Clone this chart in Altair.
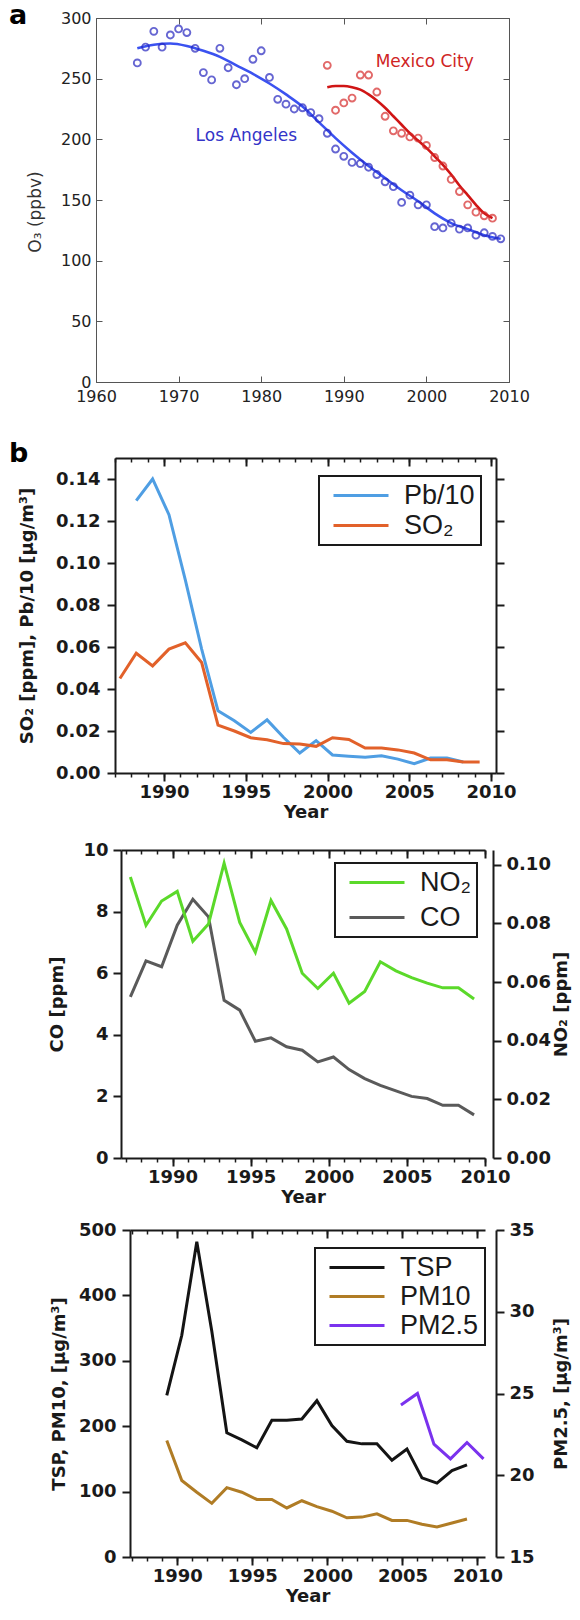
import altair as alt
import pandas as pd

# ---------------- panel a : O3 (ppbv) ----------------
la_years = list(range(1965, 2010))
la_o3 = [263, 276, 289, 276, 286, 291, 288, 275, 255, 249, 275, 259, 245, 250, 266,
         273, 251, 233, 229, 225, 226, 222, 217, 205, 192, 186, 181, 180, 177, 171,
         165, 161, 148, 154, 146, 146, 128, 127, 131, 126, 127, 121, 123, 120, 118]
mx_years = list(range(1988, 2009))
mx_o3 = [261, 224, 230, 234, 253, 253, 239, 219, 207, 205, 202, 201, 195, 185, 178,
         167, 157, 146, 140, 137, 135]
la_fit_years = [1965, 1967, 1969, 1971, 1973, 1975, 1977, 1979, 1981, 1983, 1985, 1987,
                1989, 1991, 1993, 1995, 1997, 1999, 2001, 2003, 2005, 2007, 2009]
la_fit = [275, 278, 279, 277, 273, 268, 261, 254, 246, 237, 227, 214,
          201, 189, 178, 168, 158, 149, 139, 131, 126, 121, 118]
mx_fit_years = list(range(1988, 2009))
mx_fit = [243, 244, 244, 243, 241, 237, 232, 226, 219, 212, 205, 199, 193, 186, 179,
          171, 162, 154, 146, 139, 135]
city_labels = ["Los Angeles", "Mexico City"]
city_label_year = [1978.2, 1999.8]
city_label_o3 = [202.5, 263.6]
city_label_color = ["#3434c8", "#cf2424"]

# ---------------- panel b1 : SO2, Pb/10 ----------------
so2_years = [1987.3, 1988.3, 1989.3, 1990.3, 1991.3, 1992.3, 1993.3, 1994.3, 1995.3,
             1996.3, 1997.3, 1998.3, 1999.3, 2000.3, 2001.3, 2002.3, 2003.3, 2004.3,
             2005.3, 2006.3, 2007.3, 2008.3, 2009.3]
so2_vals = [0.045, 0.057, 0.051, 0.059, 0.062, 0.0526, 0.0228, 0.020, 0.0168, 0.0158,
            0.014, 0.0138, 0.0127, 0.0168, 0.016, 0.0119, 0.0119, 0.011, 0.0095, 0.0063,
            0.0063, 0.0052, 0.0052]
pb_years = [1988.3, 1989.3, 1990.3, 1991.3, 1992.3, 1993.3, 1994.3, 1995.3, 1996.3,
            1997.3, 1998.3, 1999.3, 2000.3, 2001.3, 2002.3, 2003.3, 2004.3, 2005.3,
            2006.3, 2007.3, 2008.3]
pb_vals = [0.1297, 0.140, 0.123, 0.092, 0.059, 0.0296, 0.0249, 0.0193, 0.0253, 0.017,
           0.0095, 0.0154, 0.0086, 0.008, 0.0075, 0.0082, 0.0066, 0.0044, 0.0071, 0.0071,
           0.0052]

# ---------------- panel b2 : CO, NO2 ----------------
b2_years = so2_years
co_vals = [5.23, 6.40, 6.21, 7.56, 8.40, 7.83, 5.12, 4.80, 3.79, 3.90, 3.61, 3.50, 3.12,
           3.28, 2.87, 2.58, 2.36, 2.18, 2.00, 1.93, 1.71, 1.71, 1.40]
no2_vals = [0.0958, 0.0793, 0.0876, 0.0909, 0.0739, 0.0798, 0.1005, 0.0803, 0.0701,
            0.0878, 0.0781, 0.063, 0.0578, 0.063, 0.0528, 0.0568, 0.0669, 0.0638,
            0.0615, 0.0596, 0.058, 0.058, 0.0542]

# ---------------- panel b3 : TSP, PM10, PM2.5 ----------------
tsp_years = [1989.3, 1990.3, 1991.3, 1992.3, 1993.3, 1994.3, 1995.3, 1996.3, 1997.3,
             1998.3, 1999.3, 2000.3, 2001.3, 2002.3, 2003.3, 2004.3, 2005.3, 2006.3,
             2007.3, 2008.3, 2009.3]
tsp_vals = [247, 339, 482, 345, 190, 179, 167, 209, 209, 211, 239, 201, 177, 173, 173,
            148, 165, 121, 113, 132, 141]
pm10_vals = [178, 117, 99, 82, 106, 99, 88, 88, 75, 86, 77, 70, 60, 61, 66, 56, 56, 50,
             46, 52, 58]
pm25_years = [2004.9, 2006.0, 2007.1, 2008.2, 2009.3, 2010.4]
pm25_vals = [24.3, 25.0, 21.9, 21.0, 22.0, 21.0]

# tick values
a_xvals = [1960, 1970, 1980, 1990, 2000, 2010]
a_yvals = [0, 50, 100, 150, 200, 250, 300]
b_major = [1990, 1995, 2000, 2005, 2010]
b_minor = list(range(1987, 2011))
b1_yvals = [0, 0.02, 0.04, 0.06, 0.08, 0.10, 0.12, 0.14]
b2_left_vals = [0, 2, 4, 6, 8, 10]
b2_right_vals = [0, 0.02, 0.04, 0.06, 0.08, 0.10]
b3_left_vals = [0, 100, 200, 300, 400, 500]
b3_right_vals = [15, 20, 25, 30, 35]

# ---------------- layout (canvas pixels) ----------------
CW, CH = 564, 1604
FONT = "DejaVu Sans"
LEG_FONT = "Liberation Sans"
INK = "#1a1a1a"

# panel frames: (left, right, top, bottom)
PA = (88, 501, 10, 374)
P1 = (107, 488, 450, 765)
P2 = (113, 477, 842, 1150)
P3 = (122, 477, 1222, 1549)
P2_RIGHT = 485
P3_RIGHT = 488


def sc(domain, rng):
    return alt.Scale(domain=domain, range=list(rng), nice=False, zero=False)


def off(orient, pos):
    if orient == "left":
        return -pos
    if orient == "right":
        return pos - CW
    if orient == "top":
        return -pos
    return pos - CH


def tick_axis(orient, pos, values, size, width=2.0, color=INK, domain=False, dwidth=2):
    return alt.Axis(orient=orient, offset=off(orient, pos), values=values, tickSize=size,
                    tickWidth=width, tickColor=color, labels=False, domain=domain,
                    domainColor=color, domainWidth=dwidth, title=None, grid=False)


def lab_axis(orient, pos, values, title, fmt, tick=8, domain=True, title_pad=10,
             title_angle=None, title_baseline=None, label_pad=3):
    kw = dict(orient=orient, offset=off(orient, pos), values=values, format=fmt,
              tickSize=tick, tickWidth=2, tickColor=INK,
              domain=domain, domainColor=INK, domainWidth=2, grid=False,
              labelFont=FONT, labelFontSize=18, labelFontWeight="bold", labelColor=INK,
              labelPadding=label_pad, labelFlush=False, labelOverlap=False,
              title=title, titleFont=FONT, titleFontSize=18, titleFontWeight="bold",
              titleColor=INK, titlePadding=title_pad)
    if title_angle is not None:
        kw["titleAngle"] = title_angle
    if title_baseline is not None:
        kw["titleBaseline"] = title_baseline
    return alt.Axis(**kw)


def leg(x, y, row_pad):
    return alt.Legend(orient="none", legendX=x, legendY=y, title=None,
                      symbolType="M-0.5,0H5", symbolSize=400, symbolStrokeWidth=3,
                      labelFont=LEG_FONT, labelFontSize=27, labelColor=INK,
                      labelOffset=52, padding=6, rowPadding=row_pad, strokeColor=INK,
                      fillColor="white", labelLimit=300)


def letter(txt, x, y):
    return alt.Chart(pd.DataFrame({"t": [txt]})).mark_text(
        align="left", baseline="alphabetic", font=FONT, fontSize=27,
        fontWeight="bold", color="black").encode(
        text="t:N", x=alt.value(x), y=alt.value(y))


layers = []

# ================= panel a =================
la_df = pd.DataFrame({"year": la_years, "o3": la_o3})
mx_df = pd.DataFrame({"year": mx_years, "o3": mx_o3})
lafit_df = pd.DataFrame({"year": la_fit_years, "o3": la_fit})
mxfit_df = pd.DataFrame({"year": mx_fit_years, "o3": mx_fit})
lbl_df = pd.DataFrame({"year": city_label_year, "o3": city_label_o3,
                       "txt": city_labels, "col": city_label_color})


def sxa():
    return sc([1960, 2010], (PA[0], PA[1]))


def sya():
    return sc([0, 300], (PA[3], PA[2]))


GRAY = "#555555"
layers.append(alt.Chart(la_df).mark_point(opacity=0).encode(
    x=alt.X("year:Q", scale=sxa(), axis=tick_axis("bottom", PA[2], a_xvals, 6, 1, GRAY, True, 1)),
    y=alt.Y("o3:Q", scale=sya(), axis=tick_axis("right", PA[0], a_yvals, 6, 1, GRAY, True, 1))))
layers.append(alt.Chart(la_df).mark_point(opacity=0).encode(
    x=alt.X("year:Q", scale=sxa(), axis=tick_axis("top", PA[3], a_xvals, 6, 1, GRAY, True, 1)),
    y=alt.Y("o3:Q", scale=sya(), axis=tick_axis("left", PA[1], a_yvals, 6, 1, GRAY, True, 1))))
layers.append(alt.Chart(la_df).mark_point(opacity=0).encode(
    x=alt.X("year:Q", scale=sxa(), axis=alt.Axis(
        orient="bottom", offset=off("bottom", PA[3]), values=a_xvals, format="d",
        ticks=False, domain=False, labelFont=FONT, labelFontSize=16, labelColor="#222",
        labelPadding=6, labelFlush=False, title=None, grid=False)),
    y=alt.Y("o3:Q", scale=sya(), axis=alt.Axis(
        orient="left", offset=off("left", PA[0]), values=a_yvals, format="d", ticks=False,
        domain=False, labelFont=FONT, labelFontSize=16, labelColor="#222", labelPadding=5,
        labelFlush=False, title=None, grid=False))))
layers.append(alt.Chart(pd.DataFrame({"t": ["O₃ (ppbv)"]})).mark_text(
    angle=270, align="center", baseline="middle", font=FONT, fontSize=17,
    color="#333").encode(text="t:N", x=alt.value(28), y=alt.value(204)))
layers.append(alt.Chart(lafit_df).mark_line(interpolate="monotone", strokeWidth=2.6,
                                            color="#3b52f0").encode(
    x=alt.X("year:Q", scale=sxa(), axis=None), y=alt.Y("o3:Q", scale=sya(), axis=None)))
layers.append(alt.Chart(mxfit_df).mark_line(interpolate="monotone", strokeWidth=2.6,
                                            color="#d01515").encode(
    x=alt.X("year:Q", scale=sxa(), axis=None), y=alt.Y("o3:Q", scale=sya(), axis=None)))
layers.append(alt.Chart(la_df).mark_point(shape="circle", filled=False, size=48,
                                          strokeWidth=1.9, color="#2626c0").encode(
    x=alt.X("year:Q", scale=sxa(), axis=None), y=alt.Y("o3:Q", scale=sya(), axis=None)))
layers.append(alt.Chart(mx_df).mark_point(shape="circle", filled=False, size=48,
                                          strokeWidth=1.9, color="#d62a2a").encode(
    x=alt.X("year:Q", scale=sxa(), axis=None), y=alt.Y("o3:Q", scale=sya(), axis=None)))
layers.append(alt.Chart(lbl_df).mark_text(font=FONT, fontSize=17, align="center",
                                          baseline="middle").encode(
    x=alt.X("year:Q", scale=sxa(), axis=None), y=alt.Y("o3:Q", scale=sya(), axis=None),
    text="txt:N", color=alt.Color("col:N", scale=None)))
layers.append(letter("a", 1, 16))

# ================= panel b1 =================
b1_df = pd.DataFrame({
    "year": pb_years + so2_years,
    "val": pb_vals + so2_vals,
    "series": ["Pb/10"] * len(pb_years) + ["SO₂"] * len(so2_years)})


def sx1():
    return sc([1987.0, 2010.3], (P1[0], P1[1]))


def sy1():
    return sc([0, 0.15], (P1[3], P1[2]))


layers.append(alt.Chart(b1_df).mark_point(opacity=0).encode(
    x=alt.X("year:Q", scale=sx1(), axis=tick_axis("bottom", P1[3], b_minor, 4, 1.5)),
    y=alt.Y("val:Q", scale=sy1(), axis=tick_axis("right", P1[1], b1_yvals, 8, domain=True))))
layers.append(alt.Chart(b1_df).mark_point(opacity=0).encode(
    x=alt.X("year:Q", scale=sx1(), axis=tick_axis("bottom", P1[2], b_major, 8, domain=True)),
    y=alt.Y("val:Q", scale=sy1(), axis=None)))
layers.append(alt.Chart(b1_df).mark_point(opacity=0).encode(
    x=alt.X("year:Q", scale=sx1(), axis=tick_axis("bottom", P1[2], b_minor, 4, 1.5)),
    y=alt.Y("val:Q", scale=sy1(), axis=None)))
layers.append(alt.Chart(b1_df).mark_line(strokeWidth=3).encode(
    x=alt.X("year:Q", scale=sx1(), axis=lab_axis("bottom", P1[3], b_major, "Year", "d",
                                                  title_pad=2, label_pad=2)),
    y=alt.Y("val:Q", scale=sy1(), axis=lab_axis("left", P1[0], b1_yvals,
                                               "SO₂ [ppm], Pb/10 [µg/m³]", ".2f",
                                               title_pad=19, label_pad=7)),
    color=alt.Color("series:N", scale=alt.Scale(domain=["Pb/10", "SO₂"],
                                                range=["#4f9ee3", "#e2612a"]),
                    legend=leg(311, 468, 2))))
layers.append(letter("b", 1, 454))

# ================= panel b2 =================
co_df = pd.DataFrame({"year": b2_years, "val": co_vals, "series": ["CO"] * len(b2_years)})
no2_df = pd.DataFrame({"year": b2_years, "val": no2_vals, "series": ["NO₂"] * len(b2_years)})


def sx2():
    return sc([1986.7, 2010.0], (P2[0], P2[1]))


def sy2l():
    return sc([0, 10], (P2[3], P2[2]))


def sy2r():
    return sc([0, 0.105], (P2[3], P2[2]))


B2_COLORS = alt.Scale(domain=["NO₂", "CO"], range=["#5bd92a", "#5a5a5a"])
layers.append(alt.Chart(co_df).mark_point(opacity=0).encode(
    x=alt.X("year:Q", scale=sx2(), axis=tick_axis("bottom", P2[2], b_major, 8, domain=True)),
    y=alt.Y("val:Q", scale=sy2l(), axis=None)))
layers.append(alt.Chart(co_df).mark_point(opacity=0).encode(
    x=alt.X("year:Q", scale=sx2(), axis=tick_axis("bottom", P2[2], b_minor, 4, 1.5)),
    y=alt.Y("val:Q", scale=sy2l(), axis=None)))
layers.append(alt.Chart(co_df).mark_line(strokeWidth=3).encode(
    x=alt.X("year:Q", scale=sx2(), axis=lab_axis("bottom", P2[3], b_major, "Year", "d",
                                                  title_pad=2, label_pad=2)),
    y=alt.Y("val:Q", scale=sy2l(), axis=lab_axis("left", P2[0], b2_left_vals, "CO [ppm]",
                                                "d", title_pad=16, label_pad=5)),
    color=alt.Color("series:N", scale=B2_COLORS, legend=leg(327, 855, 7))))
layers.append(alt.Chart(no2_df).mark_line(strokeWidth=3).encode(
    x=alt.X("year:Q", scale=sx2(), axis=tick_axis("bottom", P2[3], b_minor, 4, 1.5)),
    y=alt.Y("val:Q", scale=sy2r(), axis=lab_axis("right", P2_RIGHT, b2_right_vals,
                                                "NO₂ [ppm]", ".2f", title_pad=2,
                                                title_angle=270, title_baseline="top",
                                                label_pad=5)),
    color=alt.Color("series:N", scale=B2_COLORS, legend=None)))

# ================= panel b3 =================
pm_df = pd.DataFrame({
    "year": tsp_years + tsp_years,
    "val": tsp_vals + pm10_vals,
    "series": ["TSP"] * len(tsp_years) + ["PM10"] * len(tsp_years)})
pm25_df = pd.DataFrame({"year": pm25_years, "val": pm25_vals,
                        "series": ["PM2.5"] * len(pm25_years)})


def sx3():
    return sc([1986.85, 2010.5], (P3[0], P3[1]))


def sy3l():
    return sc([0, 500], (P3[3], P3[2]))


def sy3r():
    return sc([15, 35], (P3[3], P3[2]))


B3_COLORS = alt.Scale(domain=["TSP", "PM10", "PM2.5"], range=["#141414", "#b07c25", "#7a32ee"])
layers.append(alt.Chart(pm_df).mark_point(opacity=0).encode(
    x=alt.X("year:Q", scale=sx3(), axis=tick_axis("bottom", P3[2], b_major, 8, domain=True)),
    y=alt.Y("val:Q", scale=sy3l(), axis=None)))
layers.append(alt.Chart(pm_df).mark_point(opacity=0).encode(
    x=alt.X("year:Q", scale=sx3(), axis=tick_axis("bottom", P3[2], b_minor, 4, 1.5)),
    y=alt.Y("val:Q", scale=sy3l(), axis=None)))
layers.append(alt.Chart(pm_df).mark_line(strokeWidth=3).encode(
    x=alt.X("year:Q", scale=sx3(), axis=lab_axis("bottom", P3[3], b_major, "Year", "d",
                                                  title_pad=2, label_pad=2)),
    y=alt.Y("val:Q", scale=sy3l(), axis=lab_axis("left", P3[0], b3_left_vals,
                                                "TSP, PM10, [µg/m³]", "d", title_pad=10,
                                                label_pad=6)),
    color=alt.Color("series:N", scale=B3_COLORS, legend=leg(307, 1240, 1))))
layers.append(alt.Chart(pm25_df).mark_line(strokeWidth=3).encode(
    x=alt.X("year:Q", scale=sx3(), axis=tick_axis("bottom", P3[3], b_minor, 4, 1.5)),
    y=alt.Y("val:Q", scale=sy3r(), axis=lab_axis("right", P3_RIGHT, b3_right_vals,
                                                "PM2.5, [µg/m³]", "d", title_pad=18,
                                                title_angle=270, title_baseline="top",
                                                label_pad=5)),
    color=alt.Color("series:N", scale=B3_COLORS, legend=None)))

chart = alt.layer(*layers).resolve_scale(
    x="independent", y="independent", color="independent").resolve_axis(
    x="independent", y="independent").resolve_legend(color="independent").properties(
    width=CW, height=CH, padding=0,
    autosize=alt.AutoSizeParams(type="none")).configure_view(
    strokeWidth=0).configure_legend(strokeWidth=2)

chart.save("out.html", embed_options={"renderer": "svg", "actions": False})
